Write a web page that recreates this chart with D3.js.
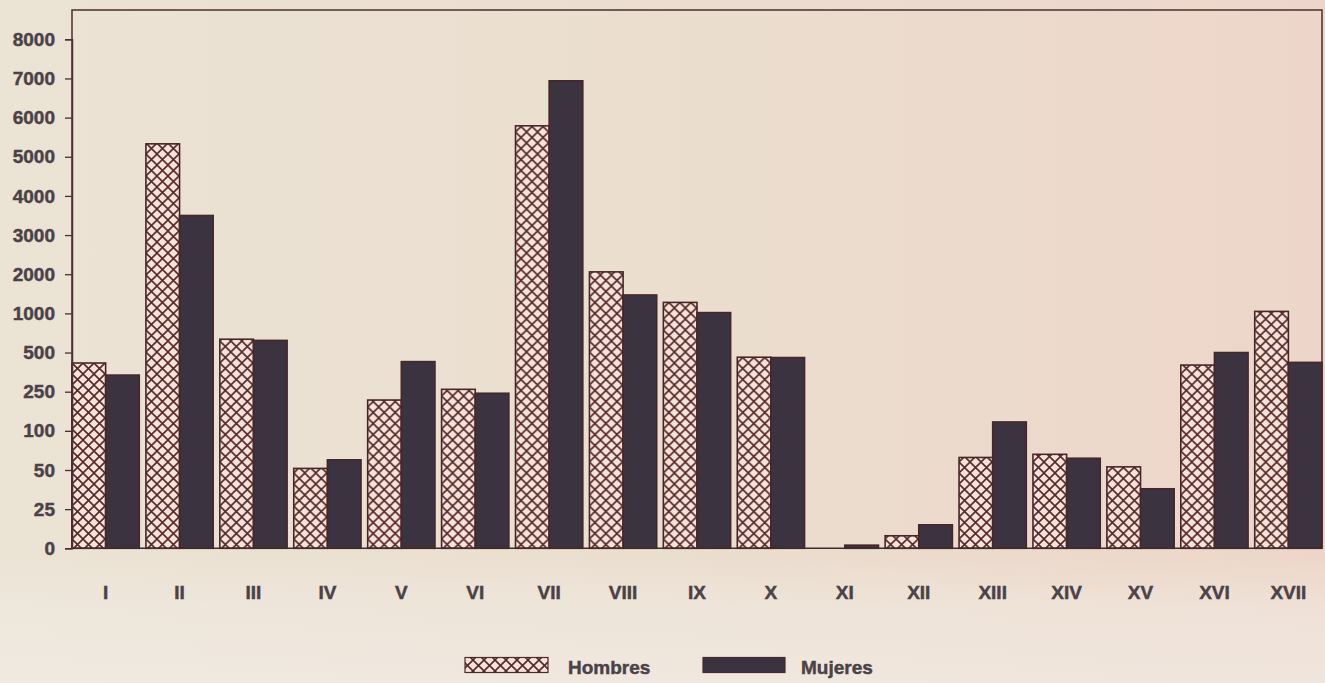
<!DOCTYPE html>
<html>
<head>
<meta charset="utf-8">
<script src="https://cdn.jsdelivr.net/npm/d3@7"></script>
<style>
  html, body { margin: 0; padding: 0; background: #ede4d8; }
  svg { display: block; }
  text { font-family: "Liberation Sans", Arial, sans-serif; font-weight: bold; fill: #4a4248; stroke: #4a4248; stroke-width: 0.45px; }
</style>
</head>
<body>
<script>
const categories = ["I","II","III","IV","V","VI","VII","VIII","IX","X","XI","XII","XIII","XIV","XV","XVI","XVII"];
const hombres = [433, 5330, 670, 52, 218, 265, 5790, 2060, 1280, 470, 0, 8, 66, 70, 54, 420, 1050];
const mujeres = [356, 3500, 655, 63, 442, 244, 6940, 1470, 1020, 468, 2, 15, 134, 65, 38, 500, 437];
const yTicks = [0, 25, 50, 100, 250, 500, 1000, 2000, 3000, 4000, 5000, 6000, 7000, 8000];
const seriesNames = ["Hombres", "Mujeres"];

const W = 1325, H = 683;
const mLeft = 72, mRight = 1322, mTop = 10, mBottom = 548.3, yTopTick = 39.3;

const svg = d3.select("body").append("svg").attr("width", W).attr("height", H);
const defs = svg.append("defs");

const bg = defs.append("linearGradient").attr("id", "bg").attr("x1", 0).attr("x2", 1).attr("y1", 0).attr("y2", 0);
bg.append("stop").attr("offset", 0).attr("stop-color", "#ebe3d4");
bg.append("stop").attr("offset", 0.5).attr("stop-color", "#ebdecf");
bg.append("stop").attr("offset", 1).attr("stop-color", "#edd6c9");

const low = defs.append("linearGradient").attr("id", "low").attr("x1", 0).attr("x2", 0).attr("y1", 0).attr("y2", 1);
low.append("stop").attr("offset", 0).attr("stop-color", "#f1ebe3").attr("stop-opacity", 0);
low.append("stop").attr("offset", 0.4).attr("stop-color", "#f1ebe3").attr("stop-opacity", 0.5);
low.append("stop").attr("offset", 1).attr("stop-color", "#f2ece5").attr("stop-opacity", 0.7);

const pat = defs.append("pattern").attr("id", "hatch").attr("patternUnits", "userSpaceOnUse")
  .attr("width", 11).attr("height", 11);
pat.append("rect").attr("width", 11).attr("height", 11).attr("fill", "#f6e3d8");
pat.append("path").attr("d", "M0,0L11,11M11,0L0,11M-1,10L1,12M10,-1L12,1")
  .attr("stroke", "#55282c").attr("stroke-width", 1.6).attr("fill", "none");

svg.append("rect").attr("width", W).attr("height", H).attr("fill", "url(#bg)");
svg.append("rect").attr("y", 556).attr("width", W).attr("height", H - 556).attr("fill", "url(#low)");

// scales
const idx = d3.scaleLinear().domain([0, yTicks.length - 1]).range([mBottom, yTopTick]);
const y = d3.scaleLinear().domain(yTicks).range(yTicks.map((d, i) => idx(i)));
const x0 = d3.scaleBand().domain(categories).range([mLeft, mRight]).paddingInner(0.09).paddingOuter(0);
const x1 = d3.scaleBand().domain(seriesNames).range([0, x0.bandwidth()]);
const fills = { Hombres: "url(#hatch)", Mujeres: "#3b3440" };
const values = { Hombres: hombres, Mujeres: mujeres };

// frame
svg.append("path")
  .attr("d", `M${mLeft},${mBottom}V${mTop}H${mRight}V${mBottom}`)
  .attr("fill", "none").attr("stroke", "#4a2e30").attr("stroke-width", 1.5);

// bars
const groups = svg.append("g").selectAll("g").data(categories).join("g")
  .attr("transform", d => `translate(${x0(d)},0)`);
groups.selectAll("rect")
  .data((c, i) => seriesNames.map(s => ({ s, v: values[s][i] })))
  .join("rect")
  .attr("x", d => x1(d.s))
  .attr("width", x1.bandwidth())
  .attr("y", d => y(d.v))
  .attr("height", d => Math.max(0, y(0) - y(d.v)))
  .attr("fill", d => fills[d.s])
  .attr("stroke", "#47262a").attr("stroke-width", 1.6);

// baseline
svg.append("line").attr("x1", mLeft).attr("x2", mRight).attr("y1", y(0)).attr("y2", y(0))
  .attr("stroke", "#3f2a2c").attr("stroke-width", 1.6);

// y axis
const yAxis = svg.append("g").attr("transform", `translate(${mLeft},0)`)
  .call(d3.axisLeft(y).tickValues(yTicks).tickSize(7).tickPadding(10).tickFormat(d3.format("d")));
yAxis.select(".domain").attr("stroke", "#4a2e30").attr("stroke-width", 1.5);
yAxis.selectAll(".tick line").attr("stroke", "#4a2e30").attr("stroke-width", 1.3);
yAxis.selectAll(".tick text").style("font-size", "19px").style("font-family", "'Liberation Sans', Arial, sans-serif")
  .style("font-weight", "bold").attr("fill", "#4a4248");

// x labels
svg.append("g").selectAll("text").data(categories).join("text")
  .attr("x", d => x0(d) + x0.bandwidth() / 2)
  .attr("y", 599)
  .attr("text-anchor", "middle")
  .style("font-size", "19px")
  .text(d => d);

// legend
const legend = [
  { name: "Hombres", x: 465, w: 83, tx: 568 },
  { name: "Mujeres", x: 703, w: 82, tx: 801 }
];
const lg = svg.append("g").selectAll("g").data(legend).join("g");
lg.append("rect").attr("x", d => d.x).attr("y", 657.5).attr("width", d => d.w).attr("height", 15)
  .attr("fill", d => fills[d.name]).attr("stroke", "#4a2a2c").attr("stroke-width", 1.2);
lg.append("text").attr("x", d => d.tx).attr("y", 674).style("font-size", "19px").text(d => d.name);
</script>
</body>
</html>
